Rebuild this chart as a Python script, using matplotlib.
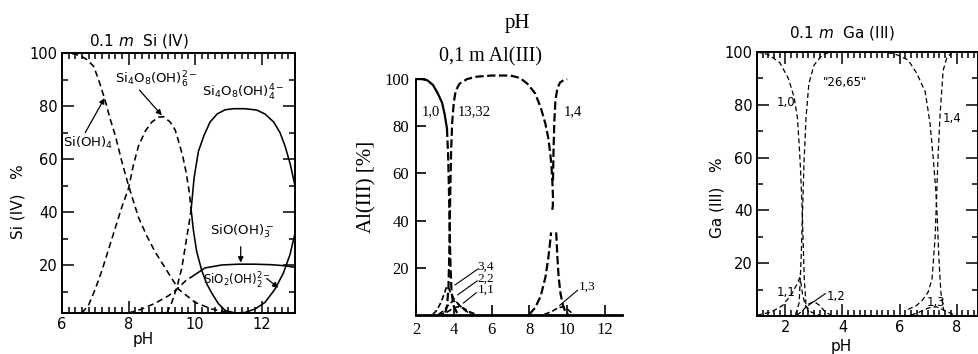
import matplotlib.pyplot as plt
from matplotlib.ticker import MultipleLocator, FixedLocator

plt.rcParams['lines.scale_dashes'] = False
plt.rcParams['mathtext.fontset'] = 'dejavusans'

# ---------------- Si(IV) : pH / % ----------------
si_oh4_ph = [6.0, 6.3, 6.55, 6.75, 6.95, 7.1, 7.3, 7.45, 7.6, 7.8, 8.0, 8.3, 8.55, 8.8, 9.2, 9.5, 10.0, 10.5, 11.0, 11.5]
si_oh4 = [100, 99.8, 99, 97.5, 95, 90, 82, 75, 69, 59, 50, 38, 31, 25, 17, 11, 6, 3.5, 2.2, 1.8]

si_oh6_ph = [6.6, 6.8, 7.0, 7.2, 7.5, 7.8, 8.0, 8.15, 8.3, 8.5, 8.7, 8.9, 9.05, 9.25, 9.4, 9.52, 9.63, 9.73, 9.82, 9.88]
si_oh6 = [2, 5, 11, 18, 30, 42, 49, 58, 65, 70.5, 74, 75.8, 76, 74, 71, 66, 61, 55, 48, 41]

si_oh4_4_low_ph = [9.15, 9.3, 9.46, 9.6, 9.73, 9.82, 9.88]
si_oh4_4_low = [2, 6, 12, 19, 29, 36, 41]
si_oh4_4_ph = [9.88, 9.97, 10.1, 10.27, 10.45, 10.66, 10.9, 11.16, 11.5, 11.85, 12.1, 12.36, 12.55, 12.7, 12.86, 13.0]
si_oh4_4 = [41, 53, 63, 69, 74, 77, 78.6, 79, 79, 78.5, 77, 74, 70, 65, 58, 50]

si_low_ph = [9.88, 9.95, 10.05, 10.2, 10.35, 10.5, 10.7, 10.9, 11.2, 11.5, 11.8, 12.1, 12.4, 12.65, 12.85, 13.0]
si_low = [41, 33, 25, 18, 13, 9.5, 5.5, 3, 2, 2.2, 3.5, 6, 11, 17, 24, 32]

si_o_oh3_dash_ph = [8.0, 8.4, 8.8, 9.2, 9.46, 9.7, 10.0]
si_o_oh3_dash = [2, 3.5, 5.7, 8.5, 11, 14, 16.5]
si_o_oh3_ph = [10.0, 10.3, 10.8, 11.3, 11.8, 12.3, 12.7, 13.0]
si_o_oh3 = [16.5, 19, 20.1, 20.4, 20.4, 20.2, 19.8, 19.2]

# ---------------- Al(III) ----------------
al10_ph = [2.0, 2.3, 2.6, 2.9, 3.15, 3.38, 3.52, 3.64]
al10 = [100, 100, 99.5, 97.5, 94, 90, 85, 79]
al10_tail_ph = [3.64, 3.7, 3.74, 3.77, 3.8, 3.83, 3.88, 3.98, 4.2]
al10_tail = [79, 68, 55, 42, 30, 20, 10, 4, 0.5]

al1332_ph = [3.55, 3.65, 3.72, 3.76, 3.79, 3.82, 3.86, 3.92, 4.0, 4.1, 4.3, 4.7, 5.2, 6.0,
             7.0, 7.5, 7.9, 8.3, 8.6, 8.85, 9.0, 9.1, 9.17, 9.22, 9.25, 9.24, 9.2]
al1332 = [1, 4, 12, 25, 40, 55, 70, 82, 90, 95, 98, 100, 101, 101.5,
          101.5, 100.5, 98, 94, 88, 81, 75, 69, 63, 56, 50, 46, 44]
al1332_tail_ph = [9.42, 9.48, 9.55, 9.65, 9.78, 9.9, 10.05]
al1332_tail = [35, 25, 16, 9, 4, 1.5, 0.3]

al14_low_ph = [8.0, 8.3, 8.6, 8.85, 9.0, 9.1, 9.15]
al14_low = [0.3, 3, 8, 16, 24, 31, 35]
al14_ph = [9.25, 9.28, 9.32, 9.38, 9.48, 9.62, 9.8, 10.0]
al14 = [57, 70, 82, 91, 96, 98.5, 99.5, 100]

al34_ph = [2.9, 3.1, 3.3, 3.5, 3.62, 3.7, 3.8, 4.0, 4.3, 4.7, 5.1]
al34 = [0.3, 2, 5, 9, 12, 12, 10, 7, 4, 1.5, 0.3]
al22_ph = [3.2, 3.5, 3.8, 4.0, 4.2, 4.5, 4.9]
al22 = [0.3, 2, 5, 6, 5, 2.5, 0.3]
al11_ph = [3.2, 3.6, 3.9, 4.2, 4.5, 4.8, 5.2]
al11 = [0.2, 1, 2.5, 3.5, 3, 1.5, 0.2]
al13_ph = [8.8, 9.2, 9.5, 9.8, 10.0, 10.3]
al13 = [0.3, 1.5, 3, 3.5, 2.5, 0.5]

# ---------------- Ga(III) ----------------
ga10_ph = [1.0, 1.4, 1.8, 2.1, 2.3, 2.42, 2.48, 2.53, 2.58, 2.62, 2.66, 2.72, 2.85]
ga10 = [100, 99, 96, 90, 83, 75, 65, 55, 42, 28, 14, 4, 0.5]
ga2665_ph = [2.35, 2.48, 2.55, 2.6, 2.65, 2.72, 2.82, 3.0, 3.3, 3.6, 4.0, 5.0, 5.5, 5.9,
             6.3, 6.6, 6.9, 7.07, 7.18, 7.27, 7.32, 7.38, 7.45, 7.55]
ga2665 = [0.5, 5, 22, 40, 58, 75, 88, 95, 99, 100, 100, 100, 100, 99,
          97, 92, 85, 73, 60, 48, 38, 22, 9, 2]
ga14_ph = [6.3, 6.6, 6.8, 7.0, 7.14, 7.25, 7.3, 7.35, 7.42, 7.53, 7.65, 7.8]
ga14 = [2.5, 4, 6, 9, 14, 30, 45, 60, 76, 93, 97.5, 99.5]
ga11_ph = [1.0, 1.5, 1.9, 2.2, 2.4, 2.5, 2.55, 2.6, 2.7, 2.9, 3.2]
ga11 = [0.3, 1.5, 4, 8, 12, 14.5, 12, 8, 4, 1.5, 0.3]
ga12_ph = [2.4, 2.6, 2.8, 3.0, 3.2, 3.4, 3.6]
ga12 = [0.3, 2, 4.5, 5.5, 4, 1.5, 0.3]
ga13_ph = [6.4, 6.7, 7.0, 7.3, 7.6, 7.9]
ga13 = [0.3, 1.5, 3, 3.5, 2, 0.5]

fig = plt.figure(figsize=(9.79, 3.54), dpi=100)
sans = 'DejaVu Sans'
serif = 'Liberation Serif'


def boxed_axes(ax):
    ax.xaxis.set_major_locator(MultipleLocator(2))
    ax.xaxis.set_minor_locator(MultipleLocator(0.2))
    ax.yaxis.set_major_locator(FixedLocator([20, 40, 60, 80, 100]))
    ax.yaxis.set_minor_locator(FixedLocator([10, 30, 50, 70, 90]))
    ax.tick_params(which='both', direction='in', top=True, right=True, width=1.1)
    ax.tick_params(which='major', length=8.5, pad=3, labelsize=10.5)
    ax.tick_params(which='minor', length=4.5)
    for lab in ax.get_xticklabels() + ax.get_yticklabels():
        lab.set_fontfamily(sans)
    for s in ax.spines.values():
        s.set_linewidth(1.4)


# ====== panel 1 : Si(IV) ======
ax1 = fig.add_axes([0.0633, 0.1158, 0.238, 0.7345])
d1 = dict(color='black', lw=1.15, dashes=(4.5, 2.8))
ax1.plot(si_oh4_ph, si_oh4, **d1)
ax1.plot(si_oh6_ph, si_oh6, **d1)
ax1.plot(si_oh4_4_low_ph, si_oh4_4_low, **d1)
ax1.plot(si_o_oh3_dash_ph, si_o_oh3_dash, **d1)
ax1.plot(si_oh4_4_ph, si_oh4_4, color='black', lw=1.15)
ax1.plot(si_low_ph, si_low, color='black', lw=1.15)
ax1.plot(si_o_oh3_ph, si_o_oh3, color='black', lw=1.15)
ax1.set_xlim(6, 13)
ax1.set_ylim(2, 100)
boxed_axes(ax1)

ax1.text(0.33, 1.01, '0.1 $\\mathit{m}$  Si (IV)', transform=ax1.transAxes, ha='center', va='bottom',
         fontsize=11, family=sans)
ax1.text(0.35, -0.1, 'pH', transform=ax1.transAxes, ha='center', va='center', fontsize=11, family=sans)
ax1.text(-0.19, 0.43, 'Si (IV)   %', transform=ax1.transAxes, rotation=90, ha='center', va='center',
         fontsize=11, family=sans)

arr = dict(arrowstyle='-|>', color='black', lw=0.9, mutation_scale=8, shrinkA=0, shrinkB=0)
ax1.text(6.03, 66, 'Si(OH)$_4$', fontsize=9.5, family=sans, va='center')
ax1.annotate('', xy=(7.28, 83), xytext=(6.7, 70), arrowprops=arr)
ax1.text(7.6, 90, 'Si$_4$O$_8$(OH)$_6^{2-}$', fontsize=9.5, family=sans, va='center')
ax1.annotate('', xy=(9.0, 76.5), xytext=(8.33, 86), arrowprops=arr)
ax1.text(10.2, 85, 'Si$_4$O$_8$(OH)$_4^{4-}$', fontsize=9.5, family=sans, va='center')
ax1.text(10.45, 33, 'SiO(OH)$_3^-$', fontsize=9.5, family=sans, va='center')
ax1.annotate('', xy=(11.37, 21), xytext=(11.37, 27), arrowprops=arr)
ax1.text(10.25, 14, 'SiO$_2$(OH)$_2^{2-}$', fontsize=8.5, family=sans, va='center')
ax1.annotate('', xy=(12.5, 11.5), xytext=(12.15, 15), arrowprops=arr)

# ====== panel 2 : Al(III) ======
ax2 = fig.add_axes([0.4249, 0.1102, 0.2104, 0.6864])
d2 = dict(color='black', lw=1.6, dashes=(6, 2.5))
ax2.plot(al10_ph, al10, color='black', lw=1.6)
ax2.plot(al10_tail_ph, al10_tail, **d2)
ax2.plot(al1332_ph, al1332, **d2)
ax2.plot(al1332_tail_ph, al1332_tail, **d2)
ax2.plot(al14_low_ph, al14_low, **d2)
ax2.plot(al14_ph, al14, **d2)
d2s = dict(color='black', lw=1.2, dashes=(4, 2))
ax2.plot(al34_ph, al34, **d2s)
ax2.plot(al22_ph, al22, **d2s)
ax2.plot(al11_ph, al11, **d2s)
ax2.plot(al13_ph, al13, **d2s)
ax2.set_xlim(2, 12.9)
ax2.set_ylim(0, 103)
ax2.spines['top'].set_visible(False)
ax2.spines['right'].set_visible(False)
ax2.spines['left'].set_bounds(0, 100)
ax2.spines['left'].set_linewidth(1.4)
ax2.spines['bottom'].set_linewidth(2.0)
ax2.xaxis.set_major_locator(MultipleLocator(2))
ax2.yaxis.set_major_locator(FixedLocator([20, 40, 60, 80, 100]))
ax2.tick_params(direction='in', length=7, width=1.2, labelsize=12, pad=5)
for lab in ax2.get_xticklabels() + ax2.get_yticklabels():
    lab.set_fontfamily(serif)

ax2.text(0.495, 1.2, 'pH', transform=ax2.transAxes, ha='center', va='center', fontsize=15, family=serif)
ax2.text(0.36, 1.062, '0,1 m Al(III)', transform=ax2.transAxes, ha='center', va='center',
         fontsize=14.5, family=serif)
ax2.text(-0.238, 0.527, 'Al(III) [%]', transform=ax2.transAxes, rotation=90, ha='center', va='center',
         fontsize=15, family=serif)

ld = dict(arrowstyle='-', color='black', lw=0.8, shrinkA=0, shrinkB=0)
ax2.text(2.3, 86, '1,0', fontsize=10.5, family=serif, va='center')
ax2.text(4.2, 86, '13,32', fontsize=10.5, family=serif, va='center')
ax2.text(9.8, 86, '1,4', fontsize=10.5, family=serif, va='center')
ax2.text(5.25, 20.5, '3,4', fontsize=9.5, family=serif, va='center')
ax2.annotate('', xy=(4.06, 12.7), xytext=(5.28, 19.5), arrowprops=ld)
ax2.text(5.25, 15.5, '2,2', fontsize=9.5, family=serif, va='center')
ax2.annotate('', xy=(4.2, 8.5), xytext=(5.25, 14.5), arrowprops=ld)
ax2.text(5.25, 10.5, '1,1', fontsize=9.5, family=serif, va='center')
ax2.annotate('', xy=(4.5, 5), xytext=(5.2, 9.5), arrowprops=ld)
ax2.text(10.6, 12, '1,3', fontsize=9.5, family=serif, va='center')
ax2.annotate('', xy=(9.6, 4), xytext=(10.55, 10.5), arrowprops=ld)

# ====== panel 3 : Ga(III) ======
ax3 = fig.add_axes([0.7732, 0.1073, 0.2257, 0.7458])
d3 = dict(color='black', lw=0.9, dashes=(3.6, 2.2))
ax3.plot(ga10_ph, ga10, **d3)
ax3.plot(ga2665_ph, ga2665, **d3)
ax3.plot(ga14_ph, ga14, **d3)
ax3.plot(ga11_ph, ga11, **d3)
ax3.plot(ga12_ph, ga12, **d3)
ax3.plot(ga13_ph, ga13, **d3)
ax3.set_xlim(1, 8.75)
ax3.set_ylim(0, 100)
boxed_axes(ax3)

ax3.text(0.383, 1.072, '0.1 $\\mathit{m}$  Ga (III)', transform=ax3.transAxes, ha='center', va='center',
         fontsize=11, family=sans)
ax3.text(0.383, -0.117, 'pH', transform=ax3.transAxes, ha='center', va='center', fontsize=11, family=sans)
ax3.text(-0.18, 0.45, 'Ga (III)   %', transform=ax3.transAxes, rotation=90, ha='center', va='center',
         fontsize=11, family=sans)

ax3.text(2.35, 81, '1,0', fontsize=8.5, family=sans, va='center', ha='right')
ax3.text(3.3, 88.5, '"26,65"', fontsize=8.5, family=sans, va='center')
ax3.text(7.53, 75, '1,4', fontsize=8.5, family=sans, va='center')
ax3.text(1.7, 9, '1,1', fontsize=8.5, family=sans, va='center')
ax3.text(3.45, 7.5, '1,2', fontsize=8.5, family=sans, va='center')
ax3.annotate('', xy=(2.8, 4), xytext=(3.4, 8.5), arrowprops=ld)
ax3.text(6.96, 5, '1,3', fontsize=8.5, family=sans, va='center')

fig.savefig('out.png', dpi=100)
